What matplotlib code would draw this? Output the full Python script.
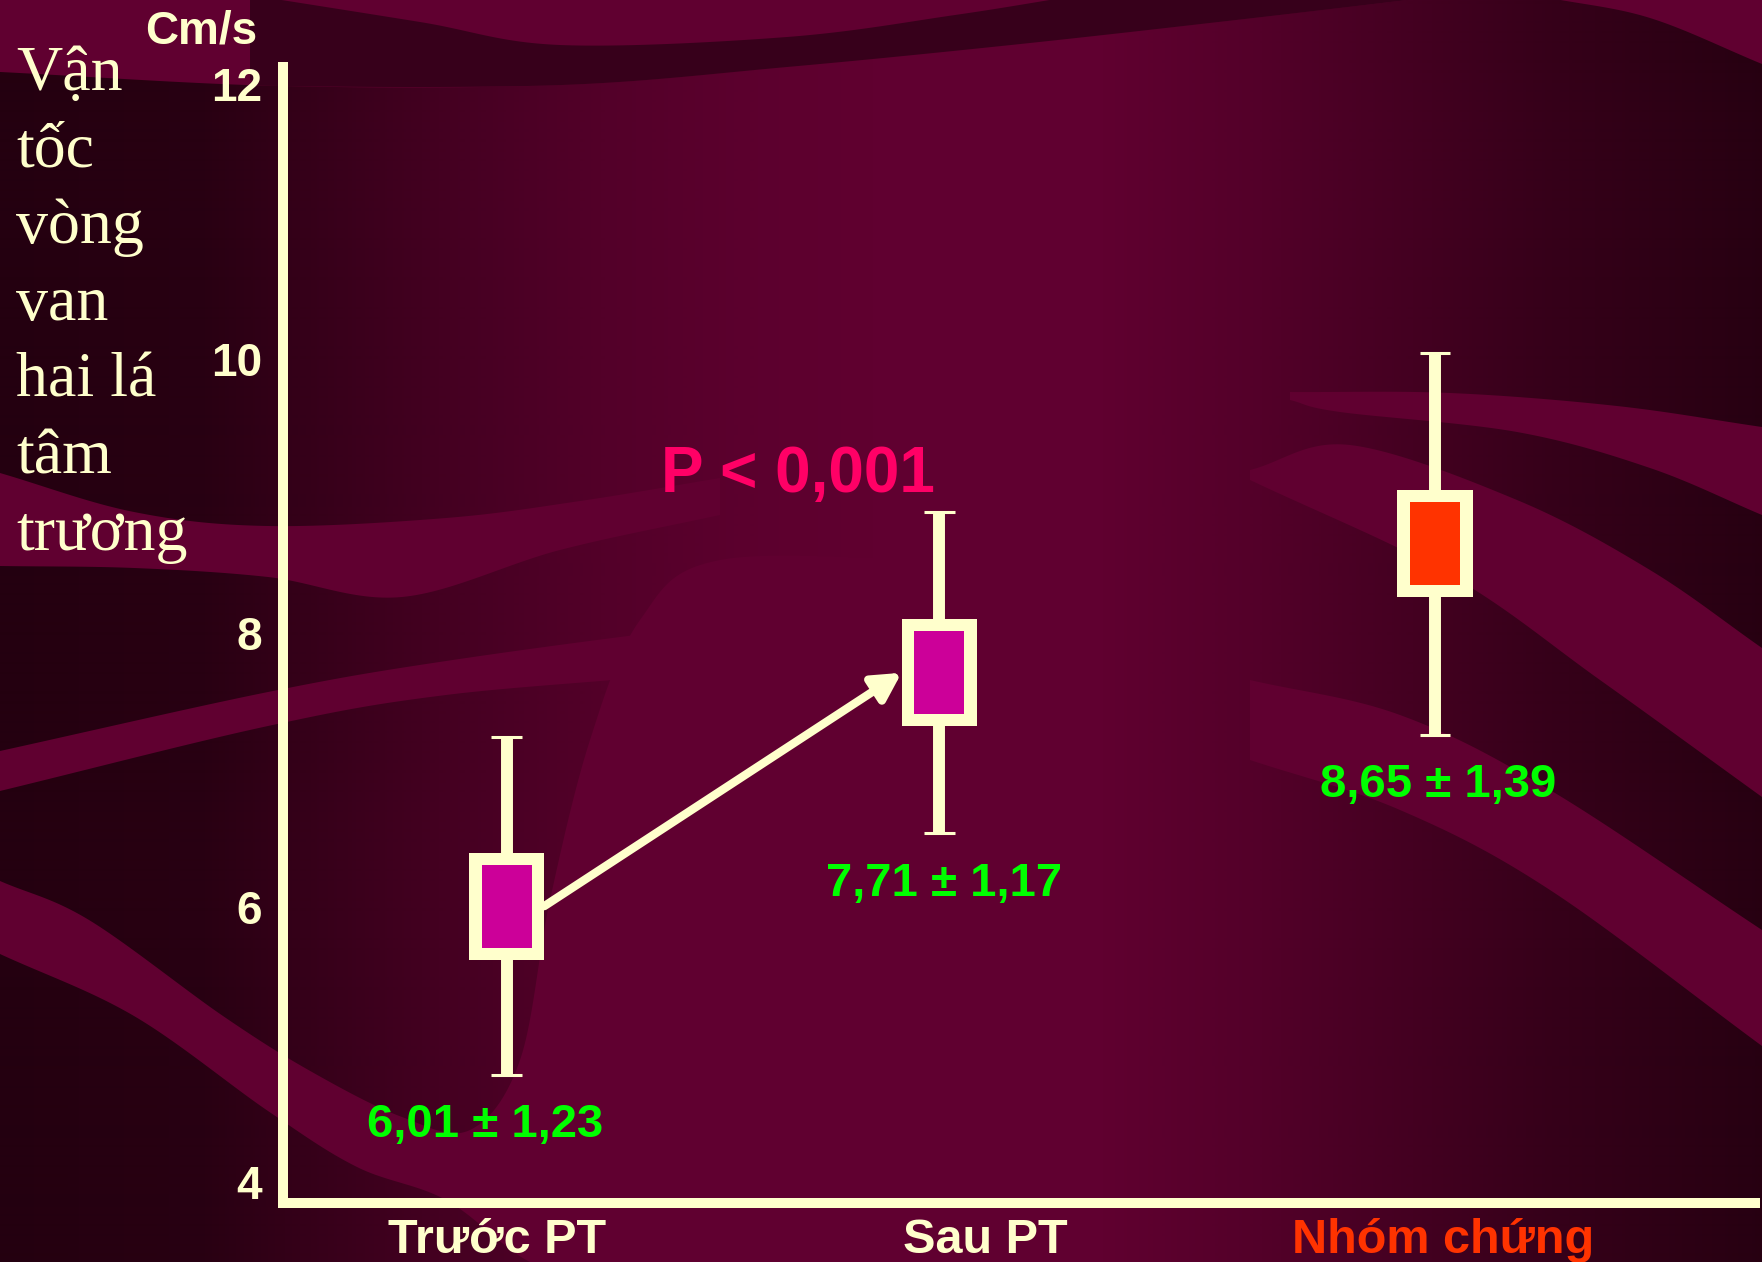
import numpy as np
import matplotlib
matplotlib.use("Agg")
import matplotlib.pyplot as plt
from matplotlib.patches import Rectangle, FancyArrowPatch, Polygon
from matplotlib.colors import to_rgb
from matplotlib import transforms

# ---- data -------------------------------------------------------------
groups = ["Trước PT", "Sau PT", "Nhóm chứng"]
means = [6.01, 7.71, 8.65]
sds = [1.23, 1.17, 1.39]
stat_labels = ["6,01 ± 1,23", "7,71 ± 1,17", "8,65 ± 1,39"]
y_ticks = [4, 6, 8, 10, 12]
y_unit = "Cm/s"
y_title_lines = ["Vận", "tốc", "vòng", "van", "hai lá", "tâm", "trương"]
p_text = "P < 0,001"

# ---- layout / style ---------------------------------------------------
W, H = 1762, 1262
CREAM = "#ffffcc"
LIGHT = "#600030"
DARK = "#240010"
BOX_FILL = ["#cc0099", "#cc0099", "#ff3300"]
GROUP_TEXT = [CREAM, CREAM, "#ff3300"]
BOX_X = [0.152, 0.4457, 0.7826]
LABEL_X = [0.137, 0.449, 0.785]
TICK_X = [0.1454, 0.477, 0.788]

plt.rcParams["font.family"] = ["Liberation Sans", "DejaVu Sans"]

fig = plt.figure(figsize=(W / 100, H / 100), dpi=100)
fig.patch.set_facecolor(LIGHT)

# ---- decorative background (pixel coordinates) -----------------------
bg = fig.add_axes([0, 0, 1, 1])
bg.set_xlim(0, W)
bg.set_ylim(H, 0)
bg.axis("off")


def smooth(pts, n=30):
    p = np.asarray(pts, float)
    if len(p) < 3:
        return p
    ext = np.vstack([2 * p[0] - p[1], p, 2 * p[-1] - p[-2]])
    t = np.linspace(0, 1, n, endpoint=False)[:, None]
    segs = []
    for i in range(1, len(ext) - 2):
        p0, p1, p2, p3 = ext[i - 1:i + 3]
        segs.append(0.5 * (2 * p1 + (-p0 + p2) * t
                           + (2 * p0 - 5 * p1 + 4 * p2 - p3) * t ** 2
                           + (-p0 + 3 * p1 - 3 * p2 + p3) * t ** 3))
    segs.append(p[-1:])
    return np.vstack(segs)


def band(upper, lower, color, alpha=1.0, z=1):
    poly = np.vstack([smooth(upper), smooth(lower)[::-1]])
    bg.add_patch(Polygon(poly, closed=True, facecolor=color, edgecolor="none",
                         alpha=alpha, zorder=z))


# side shading: dark towards both edges
gx = np.arange(W)
stops_x = [0, 200, 300, 450, 600, 760, 880, 1100, 1250, 1400, 1550, 1762]
stops_a = [1.0, 0.93, 0.72, 0.45, 0.22, 0.06, 0.0, 0.0, 0.2, 0.45, 0.7, 0.95]
shade = np.zeros((2, W, 4))
shade[..., :3] = to_rgb(DARK)
shade[..., 3] = np.interp(gx, stops_x, stops_a)
bg.imshow(shade, extent=(0, W, H, 0), aspect="auto", zorder=0.5,
          interpolation="bilinear")

# top ribbons
band([(0, -5), (1450, -5)],
     [(0, 72), (281, 86), (562, 85), (787, 67), (1011, 45), (1236, 20), (1450, -5)],
     LIGHT, z=1)
band([(250, -5), (420, 22), (560, 45), (787, 37), (955, 15), (1080, -5)],
     [(250, 80), (281, 86), (562, 85), (787, 67), (1011, 45), (1236, 20), (1450, -5)],
     "#2a0014", alpha=0.75, z=1.1)
band([(1550, -2), (1762, -2)],
     [(1550, -2), (1650, 18), (1762, 64)], LIGHT, z=1.2)

# left swooshes
band([(0, 473), (134, 512), (268, 526), (446, 518), (580, 501), (720, 478)],
     [(0, 566), (134, 568), (268, 577), (402, 597), (560, 550), (720, 515)],
     LIGHT, z=1.2)
band([(0, 751), (268, 692), (446, 661), (700, 627), (950, 600)],
     [(0, 791), (268, 726), (446, 695), (700, 672), (950, 640)],
     LIGHT, z=1.2)
band([(0, 881), (89, 920), (223, 1016), (312, 1072), (402, 1117), (470, 1130),
      (520, 1060), (550, 900), (590, 740), (640, 620), (720, 560), (950, 560)],
     [(0, 954), (134, 1016), (268, 1111), (357, 1167), (446, 1200), (530, 1262),
      (600, 1275), (700, 1275), (800, 1275), (950, 1275)],
     LIGHT, z=1.2)

# right swooshes
band([(1290, 392), (1450, 393), (1617, 406), (1762, 427)],
     [(1290, 400), (1340, 412), (1517, 432), (1650, 468), (1762, 515)], LIGHT, z=1.2)
band([(1250, 470), (1350, 445), (1517, 500), (1650, 570), (1762, 648)],
     [(1250, 480), (1450, 575), (1600, 680), (1762, 797)], LIGHT, z=1.2)
band([(1250, 680), (1400, 715), (1550, 790), (1762, 930)],
     [(1250, 760), (1400, 810), (1550, 890), (1762, 1046)], LIGHT, z=1.2)

# ---- chart axes -------------------------------------------------------
ax_left, ax_right, ax_top, ax_bot = 283, 1755, 67, 1203
ax = fig.add_axes([ax_left / W, 1 - ax_bot / H,
                   (ax_right - ax_left) / W, (ax_bot - ax_top) / H])
ax.set_facecolor("none")
px_per_unit = (1182 - 84) / 8.0
ax.set_ylim(4 - (ax_bot - 1182) / px_per_unit, 12 + (84 - ax_top) / px_per_unit)
ax.set_xlim(0, 1)

for side in ("top", "right"):
    ax.spines[side].set_visible(False)
for side in ("left", "bottom"):
    ax.spines[side].set_color(CREAM)
    ax.spines[side].set_linewidth(7.2)
    ax.spines[side].set_capstyle("projecting")

ax.set_yticks(y_ticks)
ax.set_yticklabels([str(v) for v in y_ticks])
ax.tick_params(axis="y", length=0, pad=15, labelsize=33, labelcolor=CREAM)
for t in ax.get_yticklabels():
    t.set_fontweight("bold")
ax.set_xticks([])

# group names under the axis
xt = transforms.blended_transform_factory(ax.transData, fig.transFigure)
for x, name, col in zip(TICK_X, groups, GROUP_TEXT):
    ax.text(x, 1 - 1253 / H, name, transform=xt, ha="center", va="baseline",
            fontsize=35, fontweight="bold", color=col, clip_on=False)

# boxes with whiskers
half_w, half_h = 0.0255, 0.39
bx, by = 0.0085, 0.087
cap_half = 0.0105
for x, m, s, fc in zip(BOX_X, means, sds, BOX_FILL):
    ax.vlines(x, m - s, m + s, colors=CREAM, lw=8.6, zorder=2)
    ax.hlines([m - s, m + s], x - cap_half, x + cap_half, colors=CREAM, lw=2.2, zorder=2)
    ax.add_patch(Rectangle((x - half_w, m - half_h), 2 * half_w, 2 * half_h,
                           facecolor=CREAM, edgecolor="none", zorder=3))
    ax.add_patch(Rectangle((x - half_w + bx, m - half_h + by), 2 * (half_w - bx),
                           2 * (half_h - by), facecolor=fc, edgecolor="none", zorder=4))

# mean ± SD labels under each whisker
for lx, m, s, lab in zip(LABEL_X, means, sds, stat_labels):
    ax.annotate(lab, xy=(lx, m - s), xytext=(0, -45), textcoords="offset points",
                ha="center", va="baseline", fontsize=34, fontweight="bold",
                color="#00ff00", zorder=6)

# change from before to after surgery
ax.add_patch(FancyArrowPatch((BOX_X[0] + half_w, means[0]), (BOX_X[1] - half_w, means[1]),
                             arrowstyle="-|>,head_length=0.55,head_width=0.3",
                             mutation_scale=30, lw=6, color=CREAM,
                             shrinkA=0, shrinkB=0, zorder=5))

ax.text(0.35, 9.027, p_text, ha="center", va="baseline", fontsize=46,
        fontweight="bold", color="#ff0066", zorder=6)

# axis unit and vertical title
fig.text(201 / W, 1 - 43 / H, y_unit, ha="center", va="baseline", fontsize=33,
         fontweight="bold", color=CREAM)
for i, line in enumerate(y_title_lines):
    fig.text(16 / W, 1 - (90 + i * 76.7) / H, line, ha="left", va="baseline",
             fontsize=46, color=CREAM, family=["Liberation Serif", "DejaVu Serif"])

fig.savefig("out.png", dpi=100, facecolor=fig.get_facecolor())
